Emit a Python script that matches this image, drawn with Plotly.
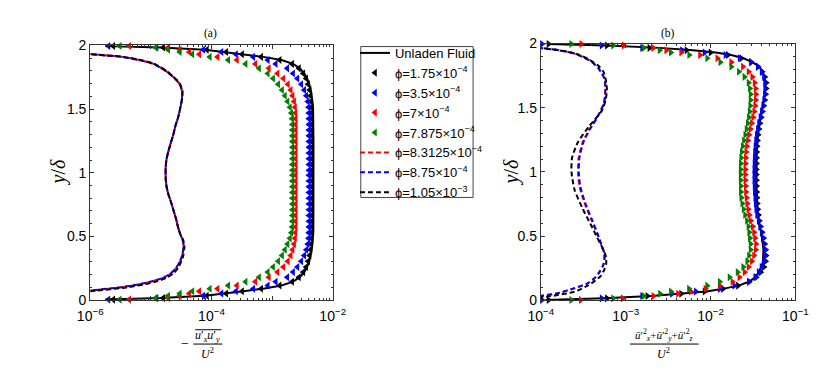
import plotly.graph_objects as go

# ---------------- data ----------------
# wall-normal rows (y/delta) at which the particle-laden profiles are plotted
y_rows = [
    0.004, 0.016, 0.034, 0.052, 0.07, 0.09, 0.115, 0.145, 0.18, 0.22, 0.26, 0.305, 0.35, 0.395,
    0.44, 0.485, 0.53, 0.575, 0.62, 0.665, 0.71, 0.755, 0.8, 0.845, 0.89, 0.935, 0.98,
    1.02, 1.065, 1.11, 1.155, 1.2, 1.245, 1.29, 1.335, 1.38, 1.425, 1.47, 1.515, 1.56, 1.605,
    1.65, 1.695, 1.74, 1.78, 1.82, 1.855, 1.885, 1.91, 1.93, 1.948, 1.966, 1.984, 1.996]

# ---- panel (a): -<u'x u'y>/U^2 ----
a_unladen = [
    1.77e-6, 1.44e-5, 7.8e-5, 1.75e-4, 3.4e-4, 7.1e-4, 1.43e-3, 2.22e-3, 2.87e-3, 3.39e-3, 3.78e-3, 4.12e-3, 4.34e-3, 4.5e-3,
    4.63e-3, 4.74e-3, 4.78e-3, 4.8e-3, 4.81e-3, 4.82e-3, 4.82e-3, 4.82e-3, 4.82e-3, 4.82e-3, 4.82e-3, 4.82e-3, 4.82e-3,
    4.82e-3, 4.82e-3, 4.82e-3, 4.82e-3, 4.82e-3, 4.82e-3, 4.82e-3, 4.82e-3, 4.81e-3, 4.8e-3, 4.78e-3, 4.74e-3, 4.63e-3, 4.5e-3,
    4.34e-3, 4.12e-3, 3.78e-3, 3.39e-3, 2.87e-3, 2.22e-3, 1.43e-3, 7.1e-4, 3.4e-4, 1.75e-4, 7.8e-5, 1.44e-5, 1.77e-6]
a_phi1 = [
    2.4e-6, 1.6e-5, 8.4e-5, 1.75e-4, 3.2e-4, 6.6e-4, 1.33e-3, 2.14e-3, 2.77e-3, 3.27e-3, 3.65e-3, 3.93e-3, 4.15e-3, 4.3e-3,
    4.38e-3, 4.45e-3, 4.47e-3, 4.48e-3, 4.5e-3, 4.5e-3, 4.5e-3, 4.5e-3, 4.5e-3, 4.5e-3, 4.5e-3, 4.5e-3, 4.5e-3,
    4.5e-3, 4.5e-3, 4.5e-3, 4.5e-3, 4.5e-3, 4.5e-3, 4.5e-3, 4.5e-3, 4.5e-3, 4.48e-3, 4.47e-3, 4.45e-3, 4.38e-3, 4.3e-3,
    4.15e-3, 3.93e-3, 3.65e-3, 3.27e-3, 2.77e-3, 2.14e-3, 1.33e-3, 6.6e-4, 3.2e-4, 1.75e-4, 8.4e-5, 1.6e-5, 2.4e-6]
a_phi2 = [
    2.0e-6, 1.24e-5, 7.3e-5, 1.46e-4, 2.54e-4, 4.9e-4, 8.5e-4, 1.15e-3, 1.78e-3, 2.22e-3, 2.62e-3, 3.03e-3, 3.39e-3, 3.67e-3,
    3.88e-3, 4.0e-3, 4.03e-3, 4.05e-3, 4.05e-3, 4.05e-3, 4.05e-3, 4.05e-3, 4.05e-3, 4.05e-3, 4.05e-3, 4.05e-3, 4.05e-3,
    4.05e-3, 4.05e-3, 4.05e-3, 4.05e-3, 4.05e-3, 4.05e-3, 4.05e-3, 4.05e-3, 4.05e-3, 4.05e-3, 4.03e-3, 4.0e-3, 3.88e-3, 3.67e-3,
    3.39e-3, 3.03e-3, 2.62e-3, 2.22e-3, 1.78e-3, 1.15e-3, 8.5e-4, 4.9e-4, 2.54e-4, 1.46e-4, 7.3e-5, 1.24e-5, 2.0e-6]
a_phi3 = [
    4.4e-6, 1.93e-5, 3.0e-5, 4.3e-5, 6.3e-5, 1.26e-4, 2.63e-4, 5.3e-4, 8.85e-4, 1.23e-3, 1.54e-3, 1.82e-3, 2.03e-3, 2.18e-3,
    2.31e-3, 2.39e-3, 2.43e-3, 2.45e-3, 2.45e-3, 2.45e-3, 2.45e-3, 2.45e-3, 2.45e-3, 2.45e-3, 2.45e-3, 2.45e-3, 2.45e-3,
    2.45e-3, 2.45e-3, 2.45e-3, 2.45e-3, 2.45e-3, 2.45e-3, 2.45e-3, 2.45e-3, 2.45e-3, 2.45e-3, 2.43e-3, 2.39e-3, 2.31e-3, 2.18e-3,
    2.03e-3, 1.82e-3, 1.54e-3, 1.23e-3, 8.85e-4, 5.3e-4, 2.63e-4, 1.26e-4, 6.3e-5, 4.3e-5, 3.0e-5, 1.93e-5, 4.4e-6]
a_phi4 = [
    3.07e-6, 1.2e-5, 1.93e-5, 3.0e-5, 4.84e-5, 9.4e-5, 1.89e-4, 3.66e-4, 6.1e-4, 8.5e-4, 1.04e-3, 1.26e-3, 1.46e-3, 1.63e-3,
    1.8e-3, 1.97e-3, 2.08e-3, 2.14e-3, 2.16e-3, 2.16e-3, 2.16e-3, 2.16e-3, 2.16e-3, 2.16e-3, 2.16e-3, 2.16e-3, 2.16e-3,
    2.16e-3, 2.16e-3, 2.16e-3, 2.16e-3, 2.16e-3, 2.16e-3, 2.16e-3, 2.16e-3, 2.16e-3, 2.14e-3, 2.08e-3, 1.97e-3, 1.8e-3, 1.63e-3,
    1.46e-3, 1.26e-3, 1.04e-3, 8.5e-4, 6.1e-4, 3.66e-4, 1.89e-4, 9.4e-5, 4.84e-5, 3.0e-5, 1.93e-5, 1.2e-5, 3.07e-6]

a_dash_y = [0.05, 0.075, 0.1, 0.125, 0.15, 0.175, 0.21, 0.25, 0.3, 0.33,
            0.36, 0.39, 0.42, 0.45, 0.48, 0.51, 0.55, 0.6, 0.64, 0.7,
            0.77, 0.83, 0.89, 0.95, 1.0, 1.05, 1.11, 1.17, 1.24, 1.3,
            1.37, 1.43, 1.49, 1.55, 1.6, 1.64, 1.67, 1.7, 1.73, 1.76,
            1.795, 1.83, 1.86, 1.885, 1.91, 1.93, 1.95]
a_phi5 = [3e-7, 1.0e-6, 3.2e-6, 6.6e-6, 1.1e-5, 1.6e-5, 2.15e-5, 2.6e-5, 3.0e-5, 3.2e-5,
          3.32e-5, 3.42e-5, 3.47e-5, 3.44e-5, 3.3e-5, 3.1e-5, 2.9e-5, 2.72e-5, 2.6e-5, 2.38e-5,
          2.15e-5, 1.95e-5, 1.82e-5, 1.76e-5, 1.75e-5, 1.76e-5, 1.82e-5, 1.95e-5, 2.15e-5, 2.35e-5,
          2.55e-5, 2.8e-5, 3.0e-5, 3.18e-5, 3.28e-5, 3.28e-5, 3.15e-5, 2.95e-5, 2.62e-5, 2.25e-5,
          1.82e-5, 1.4e-5, 1.05e-5, 6.5e-6, 3.4e-6, 1.1e-6, 3e-7]
a_phi6 = [2.5e-7, 9.5e-7, 3.1e-6, 6.5e-6, 1.08e-5, 1.58e-5, 2.12e-5, 2.58e-5, 2.98e-5, 3.18e-5,
          3.3e-5, 3.4e-5, 3.45e-5, 3.43e-5, 3.3e-5, 3.1e-5, 2.9e-5, 2.72e-5, 2.6e-5, 2.38e-5,
          2.15e-5, 1.95e-5, 1.82e-5, 1.76e-5, 1.75e-5, 1.76e-5, 1.82e-5, 1.95e-5, 2.15e-5, 2.35e-5,
          2.55e-5, 2.8e-5, 3.0e-5, 3.18e-5, 3.27e-5, 3.27e-5, 3.14e-5, 2.93e-5, 2.6e-5, 2.23e-5,
          1.8e-5, 1.38e-5, 1.03e-5, 6.4e-6, 3.3e-6, 1.05e-6, 3e-7]
a_phi7 = [4e-7, 1.3e-6, 4.0e-6, 8e-6, 1.3e-5, 1.8e-5, 2.35e-5, 2.8e-5, 3.15e-5, 3.35e-5,
          3.46e-5, 3.54e-5, 3.58e-5, 3.52e-5, 3.35e-5, 3.12e-5, 2.9e-5, 2.72e-5, 2.6e-5, 2.38e-5,
          2.15e-5, 1.95e-5, 1.82e-5, 1.76e-5, 1.75e-5, 1.76e-5, 1.82e-5, 1.95e-5, 2.15e-5, 2.35e-5,
          2.55e-5, 2.8e-5, 3.0e-5, 3.2e-5, 3.32e-5, 3.33e-5, 3.2e-5, 3.0e-5, 2.66e-5, 2.28e-5,
          1.86e-5, 1.44e-5, 1.08e-5, 6.8e-6, 3.5e-6, 1.1e-6, 3e-7]

# ---- panel (b): (u'x^2 + u'y^2 + u'z^2)/U^2 ----
b_unladen = [
    1.14e-4, 5.5e-4, 2.0e-3, 4.8e-3, 9.0e-3, 1.4e-2, 2.12e-2, 2.83e-2, 3.36e-2, 3.72e-2, 3.98e-2, 4.14e-2, 4.19e-2, 4.19e-2,
    4.13e-2, 4.05e-2, 3.94e-2, 3.8e-2, 3.7e-2, 3.63e-2, 3.58e-2, 3.53e-2, 3.5e-2, 3.49e-2, 3.47e-2, 3.46e-2, 3.46e-2,
    3.46e-2, 3.47e-2, 3.48e-2, 3.5e-2, 3.53e-2, 3.56e-2, 3.62e-2, 3.7e-2, 3.78e-2, 3.88e-2, 4.0e-2, 4.12e-2, 4.25e-2, 4.35e-2,
    4.42e-2, 4.42e-2, 4.3e-2, 4.1e-2, 3.75e-2, 3.1e-2, 2.45e-2, 1.75e-2, 1.15e-2, 6.2e-3, 2.5e-3, 6e-4, 1.2e-4]
b_phi1 = [
    1.23e-4, 6.0e-4, 1.8e-3, 4.5e-3, 8.5e-3, 1.4e-2, 2.1e-2, 2.85e-2, 3.45e-2, 3.9e-2, 4.25e-2, 4.45e-2, 4.5e-2, 4.45e-2,
    4.3e-2, 4.15e-2, 4.0e-2, 3.85e-2, 3.75e-2, 3.67e-2, 3.6e-2, 3.55e-2, 3.52e-2, 3.5e-2, 3.48e-2, 3.47e-2, 3.46e-2,
    3.46e-2, 3.47e-2, 3.48e-2, 3.5e-2, 3.53e-2, 3.57e-2, 3.63e-2, 3.72e-2, 3.82e-2, 3.95e-2, 4.08e-2, 4.22e-2, 4.35e-2, 4.45e-2,
    4.52e-2, 4.52e-2, 4.35e-2, 4.05e-2, 3.6e-2, 3.0e-2, 2.3e-2, 1.6e-2, 1.0e-2, 5.2e-3, 1.9e-3, 6.0e-4, 1.23e-4]
b_phi2 = [
    1.03e-4, 5.2e-4, 1.56e-3, 3.5e-3, 6.7e-3, 1.28e-2, 1.9e-2, 2.83e-2, 3.36e-2, 3.68e-2, 3.98e-2, 4.25e-2, 4.39e-2, 4.39e-2,
    4.33e-2, 4.22e-2, 4.05e-2, 3.87e-2, 3.68e-2, 3.53e-2, 3.45e-2, 3.4e-2, 3.36e-2, 3.32e-2, 3.3e-2, 3.28e-2, 3.28e-2,
    3.28e-2, 3.29e-2, 3.31e-2, 3.34e-2, 3.38e-2, 3.43e-2, 3.5e-2, 3.6e-2, 3.72e-2, 3.87e-2, 4.02e-2, 4.17e-2, 4.28e-2, 4.36e-2,
    4.4e-2, 4.38e-2, 4.25e-2, 4.0e-2, 3.6e-2, 3.0e-2, 2.2e-2, 1.5e-2, 8.5e-3, 4.6e-3, 1.56e-3, 5.2e-4, 1.03e-4]
b_phi3 = [
    2.96e-4, 9.2e-4, 2.12e-3, 4.13e-3, 5.85e-3, 8.7e-3, 1.28e-2, 1.81e-2, 2.18e-2, 2.51e-2, 2.8e-2, 3.06e-2, 3.25e-2, 3.4e-2,
    3.43e-2, 3.34e-2, 3.25e-2, 3.14e-2, 2.98e-2, 2.86e-2, 2.78e-2, 2.7e-2, 2.65e-2, 2.61e-2, 2.59e-2, 2.57e-2, 2.57e-2,
    2.57e-2, 2.58e-2, 2.6e-2, 2.63e-2, 2.68e-2, 2.75e-2, 2.84e-2, 2.95e-2, 3.06e-2, 3.17e-2, 3.27e-2, 3.35e-2, 3.4e-2, 3.42e-2,
    3.38e-2, 3.3e-2, 3.1e-2, 2.8e-2, 2.4e-2, 1.75e-2, 1.2e-2, 7.5e-3, 4.5e-3, 3.0e-3, 2.1e-3, 9.5e-4, 3.0e-4]
b_phi4 = [
    2.28e-4, 7.1e-4, 1.63e-3, 2.53e-3, 3.4e-3, 5.56e-3, 9.1e-3, 1.28e-2, 1.67e-2, 2.08e-2, 2.42e-2, 2.7e-2, 2.83e-2, 2.96e-2,
    2.96e-2, 2.9e-2, 2.85e-2, 2.79e-2, 2.68e-2, 2.55e-2, 2.45e-2, 2.36e-2, 2.3e-2, 2.27e-2, 2.27e-2, 2.26e-2, 2.26e-2,
    2.26e-2, 2.27e-2, 2.29e-2, 2.33e-2, 2.39e-2, 2.47e-2, 2.56e-2, 2.65e-2, 2.74e-2, 2.82e-2, 2.88e-2, 2.93e-2, 2.96e-2, 2.96e-2,
    2.9e-2, 2.8e-2, 2.5e-2, 2.15e-2, 1.75e-2, 1.3e-2, 9.1e-3, 5.6e-3, 3.4e-3, 2.5e-3, 1.63e-3, 7.1e-4, 2.28e-4]

b_dash_y = [0.015, 0.03, 0.056, 0.09, 0.13, 0.17, 0.216, 0.27, 0.316, 0.365, 0.415, 0.514, 0.638, 0.762, 0.885, 0.997,
            1.109, 1.233, 1.33, 1.43, 1.53, 1.59, 1.654, 1.706, 1.744, 1.805, 1.855, 1.89, 1.93, 1.95, 1.966, 1.98]
b_phi5 = [5e-5, 8.5e-5, 1.6e-4, 2.35e-4, 3.5e-4, 4.25e-4, 4.85e-4, 5.4e-4, 5.6e-4, 5.6e-4, 5.27e-4, 4.62e-4, 3.88e-4, 3.26e-4, 2.86e-4, 2.74e-4,
          2.79e-4, 3.12e-4, 3.72e-4, 4.62e-4, 5.5e-4, 5.7e-4, 5.77e-4, 5.7e-4, 5.47e-4, 4.8e-4, 4.02e-4, 3.24e-4, 2.28e-4, 1.56e-4, 9.5e-5, 7e-5]
b_phi6 = [5e-5, 8.5e-5, 1.6e-4, 2.35e-4, 3.5e-4, 4.25e-4, 4.85e-4, 5.4e-4, 5.6e-4, 5.6e-4, 5.3e-4, 4.7e-4, 3.95e-4, 3.32e-4, 2.92e-4, 2.8e-4,
          2.85e-4, 3.18e-4, 3.78e-4, 4.68e-4, 5.52e-4, 5.7e-4, 5.77e-4, 5.7e-4, 5.47e-4, 4.8e-4, 4.02e-4, 3.24e-4, 2.28e-4, 1.56e-4, 9.5e-5, 7e-5]
b_dash7_y = [0.015, 0.03, 0.068, 0.117, 0.155, 0.192, 0.24, 0.29, 0.35, 0.415, 0.49, 0.564, 0.712, 0.86, 0.997,
             1.109, 1.233, 1.357, 1.48, 1.56, 1.64, 1.71, 1.78, 1.83, 1.87, 1.91, 1.94, 1.96, 1.98]
b_phi7 = [6e-5, 1.2e-4, 2.5e-4, 3.6e-4, 4.4e-4, 5.1e-4, 5.6e-4, 5.9e-4, 5.8e-4, 5.27e-4, 4.6e-4, 4.06e-4, 3.12e-4, 2.5e-4, 2.3e-4,
          2.33e-4, 2.74e-4, 3.72e-4, 5.27e-4, 5.8e-4, 6.0e-4, 5.85e-4, 5.47e-4, 4.7e-4, 3.8e-4, 2.9e-4, 1.9e-4, 1.2e-4, 7e-5]

legend_names = ["Unladen Fluid",
                "ϕ=1.75×10<sup>−4</sup>", "ϕ=3.5×10<sup>−4</sup>", "ϕ=7×10<sup>−4</sup>",
                "ϕ=7.875×10<sup>−4</sup>", "ϕ=8.3125×10<sup>−4</sup>", "ϕ=8.75×10<sup>−4</sup>",
                "ϕ=1.05×10<sup>−3</sup>"]
a_xticks = [1e-6, 1e-5, 1e-4, 1e-3, 1e-2]
a_xticktext = ["10<sup>−6</sup>", "", "10<sup>−4</sup>", "", "10<sup>−2</sup>"]
b_xticks = [1e-4, 1e-3, 1e-2, 1e-1]
b_xticktext = ["10<sup>−4</sup>", "10<sup>−3</sup>", "10<sup>−2</sup>", "10<sup>−1</sup>"]
y_ticks = [0, 0.5, 1, 1.5, 2]
y_ticktext = ["0", "0.5", "1", "1.5", "2"]

# ---------------- styling ----------------
# The page body keeps its default 8px margin and the figure fills the rest of
# the 830x372 window, so positions taken from the reference are mapped into it.
PAGE_W, PAGE_H, BODY = 830, 372, 8
FW, FH = PAGE_W - 2 * BODY, PAGE_H - 2 * BODY
SANS = "Liberation Sans, Arial, Helvetica, sans-serif"
SERIF = "Liberation Serif, Times New Roman, serif"
BLACK, BLUE, RED, GREEN = "#000000", "#0000FF", "#FF0000", "#008000"
MSIZE = 7

for arr in (a_unladen, a_phi1, a_phi2, a_phi3, a_phi4, b_unladen, b_phi1, b_phi2, b_phi3, b_phi4):
    assert len(arr) == len(y_rows), len(arr)
assert len(a_phi5) == len(a_dash_y) == len(a_phi6) == len(a_phi7)
assert len(b_phi5) == len(b_dash_y) == len(b_phi6)
assert len(b_phi7) == len(b_dash7_y)


def px(x):
    return (x - BODY) / FW


def py(y):
    return 1 - (y - BODY) / FH


fig = go.Figure()


def add_panel(xa, ya, unladen, markers, dashes, symbol, show):
    fig.add_trace(go.Scatter(x=unladen, y=y_rows, mode="lines", name=legend_names[0],
                             line=dict(color=BLACK, width=2), xaxis=xa, yaxis=ya,
                             showlegend=show, legendgroup="g0"))
    for i, (vals, col) in enumerate(markers):
        fig.add_trace(go.Scatter(x=vals, y=y_rows, mode="markers", name=legend_names[i + 1],
                                 marker=dict(symbol=symbol, size=MSIZE, color=col, line=dict(width=0)),
                                 cliponaxis=False, xaxis=xa, yaxis=ya,
                                 showlegend=show, legendgroup="g%d" % (i + 1)))
    for j, (vals, yy, col) in enumerate(dashes):
        fig.add_trace(go.Scatter(x=vals, y=yy, mode="lines", name=legend_names[j + 5],
                                 line=dict(color=col, width=2, dash="5px,3px", shape="spline",
                                           smoothing=0.6),
                                 xaxis=xa, yaxis=ya,
                                 showlegend=show, legendgroup="g%d" % (j + 5)))


add_panel("x", "y", a_unladen,
          [(a_phi1, BLACK), (a_phi2, BLUE), (a_phi3, RED), (a_phi4, GREEN)],
          [(a_phi5, a_dash_y, RED), (a_phi6, a_dash_y, BLUE), (a_phi7, a_dash_y, BLACK)],
          "triangle-left", True)
add_panel("x2", "y2", b_unladen,
          [(b_phi1, BLACK), (b_phi2, BLUE), (b_phi3, RED), (b_phi4, GREEN)],
          [(b_phi5, b_dash_y, RED), (b_phi6, b_dash_y, BLUE), (b_phi7, b_dash7_y, BLACK)],
          "triangle-right", False)


def minor_log(lo, hi):
    return [m * 10.0 ** e for e in range(lo, hi) for m in range(2, 10)]


axis_common = dict(showline=True, linecolor="#333333", linewidth=1, mirror="allticks",
                   ticks="inside", ticklen=4, tickcolor="#333333", showgrid=False, zeroline=False,
                   tickfont=dict(family=SANS, size=14, color="black"))

fig.update_layout(
    width=FW, height=FH, margin=dict(l=0, r=0, t=0, b=0),
    paper_bgcolor="white", plot_bgcolor="white",
    xaxis=dict(type="log", range=[-6, -2], domain=[px(79.5), px(330)], anchor="y",
               tickmode="array", tickvals=a_xticks, ticktext=a_xticktext, ticklabelstandoff=3,
               minor=dict(tickmode="array", tickvals=minor_log(-6, -2), ticks="inside", ticklen=2,
                          tickcolor="#333333"),
               **axis_common),
    yaxis=dict(range=[0, 2], domain=[py(305.5), py(38.8)], anchor="x",
               tickmode="array", tickvals=y_ticks, ticktext=y_ticktext,
               minor=dict(dtick=0.1, ticks="inside", ticklen=2, tickcolor="#333333"),
               **axis_common),
    xaxis2=dict(type="log", range=[-4, -1], domain=[px(545), px(808)], anchor="y2",
                tickmode="array", tickvals=b_xticks, ticktext=b_xticktext, ticklabelstandoff=3,
                minor=dict(tickmode="array", tickvals=minor_log(-4, -1), ticks="inside", ticklen=2,
                           tickcolor="#333333"),
                **axis_common),
    yaxis2=dict(range=[0, 2], domain=[py(305.8), py(36.8)], anchor="x2",
                tickmode="array", tickvals=y_ticks, ticktext=y_ticktext,
                minor=dict(dtick=0.1, ticks="inside", ticklen=2, tickcolor="#333333"),
                **axis_common),
    legend=dict(x=px(353), y=py(31), xanchor="left", yanchor="top",
                bgcolor="rgba(0,0,0,0)", borderwidth=0,
                font=dict(family=SANS, size=13, color="black"),
                itemwidth=30, tracegroupgap=0, traceorder="normal"),
    showlegend=True,
)


def ann(text, x, y, size, family=SERIF, angle=0):
    return dict(text=text, x=px(x), y=py(y), xref="paper", yref="paper", showarrow=False,
                xanchor="center", yanchor="middle", textangle=angle,
                font=dict(family=family, size=size, color="black"))


annotations = [
    ann("(a)", 204, 26, 11.5),
    ann("(b)", 676, 26, 11.5),
    ann("<i>y</i>/<i>δ</i>", 47, 172, 20, angle=-90),
    ann("<i>y</i>/<i>δ</i>", 515, 172, 20, angle=-90),
    ann("−", 177, 351, 14),
    ann("<i>u</i>′<sub><i>x</i></sub><i>u</i>′<sub><i>y</i></sub>", 201, 343.5, 12),
    ann("<i>U</i><sup>2</sup>", 201, 361, 12),
    ann("<i>ū</i>′<sup>2</sup><sub><i>x</i></sub>+<i>ū</i>′<sup>2</sup><sub><i>y</i></sub>+<i>ū</i>′<sup>2</sup><sub><i>z</i></sub>",
        672, 342, 11),
    ann("<i>U</i><sup>2</sup>", 672, 361, 12),
]


def hline(x0, x1, y):
    return dict(type="line", xref="paper", yref="paper", x0=px(x0), x1=px(x1), y0=py(y), y1=py(y),
                line=dict(color="black", width=1))


shapes = [
    # legend frame
    dict(type="rect", xref="paper", yref="paper", x0=px(359), x1=px(475), y0=py(198), y1=py(40),
         line=dict(color="#444444", width=1), fillcolor="white", layer="below"),
    hline(188, 215, 336.5),   # overline of numerator (a)
    hline(186, 216, 351.5),   # fraction bar (a)
    hline(637, 708, 351.5),   # fraction bar (b)
]

fig.update_layout(annotations=annotations, shapes=shapes)

fig.write_html("out.html", config={"displayModeBar": False})
